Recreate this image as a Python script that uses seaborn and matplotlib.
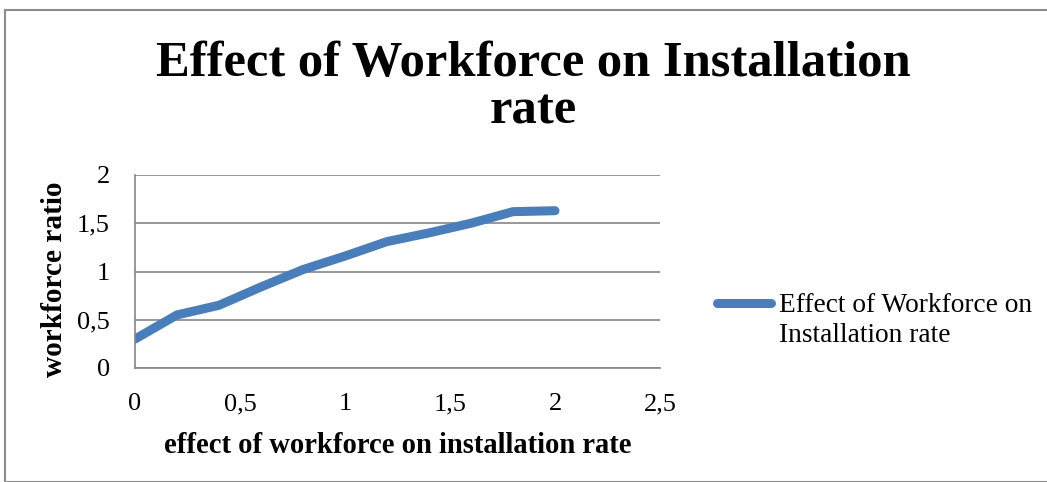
import matplotlib
matplotlib.use("Agg")
import matplotlib.pyplot as plt
import matplotlib.patches as mpatches
import seaborn as sns
import pandas as pd
from matplotlib.ticker import FuncFormatter

# Data
x_values = [0.0, 0.2, 0.4, 0.6, 0.8, 1.0, 1.2, 1.4, 1.6, 1.8, 2.0]
y_values = [0.30, 0.55, 0.65, 0.84, 1.02, 1.16, 1.31, 1.40, 1.50, 1.62, 1.63]
series_name = "Effect of Workforce on\nInstallation rate"
title_lines = ["Effect of Workforce on Installation", "rate"]
x_label = "effect of workforce on installation rate"
y_label = "workforce ratio"
x_ticks = [0, 0.5, 1, 1.5, 2, 2.5]
y_ticks = [0, 0.5, 1, 1.5, 2]

df = pd.DataFrame({"x": x_values, "y": y_values, "series": series_name})

sns.set_theme(style="white")
plt.rcParams["font.family"] = ["Liberation Serif", "DejaVu Serif"]
plt.rcParams["text.color"] = "black"

W, H = 1047, 482
fig = plt.figure(figsize=(W / 100, H / 100), dpi=100)
renderer = fig.canvas.get_renderer()


def fy(py):
    return 1 - py / H


def fit_size(text, target_px, weight="normal", base=20):
    t = fig.text(0, 0, text, fontsize=base, fontweight=weight)
    w = t.get_window_extent(renderer).width
    t.remove()
    return base * target_px / w


ax_left, ax_right, ax_top, ax_bottom = 135, 660, 175, 368
ax = fig.add_axes([ax_left / W, fy(ax_bottom), (ax_right - ax_left) / W, (ax_bottom - ax_top) / H])

sns.lineplot(data=df, x="x", y="y", hue="series", palette=["#4A7EBB"],
             linewidth=6.5, ax=ax, legend=True, sort=False)
for ln in ax.lines:
    ln.set_solid_capstyle("round")
    ln.set_solid_joinstyle("round")

ax.set_xlim(0, 2.5)
ax.set_ylim(0, 2)
ax.set_xticks(x_ticks)
ax.set_yticks(y_ticks)
fmt = FuncFormatter(lambda v, p: ("%g" % v).replace(".", ","))
ax.xaxis.set_major_formatter(fmt)
ax.yaxis.set_major_formatter(fmt)
tick_fs = fit_size("1,5", 33)
ax.tick_params(axis="both", labelsize=tick_fs, colors="black", length=0, pad=18)
ax.grid(axis="y", color="#868686", linewidth=1.2)
ax.grid(axis="x", visible=False)
for side in ["top", "right"]:
    ax.spines[side].set_visible(False)
for side in ["left", "bottom"]:
    ax.spines[side].set_color("#868686")
    ax.spines[side].set_linewidth(1.2)

# axis labels
xl_fs = fit_size(x_label, 467, "bold")
ax.set_xlabel(x_label, fontsize=xl_fs, fontweight="bold", color="black")
ax.xaxis.label.set_va("baseline")
ax.xaxis.set_label_coords(397.5 / W, fy(453), transform=fig.transFigure)

yl_fs = fit_size(y_label, 195, "bold")
ax.set_ylabel(y_label, fontsize=yl_fs, fontweight="bold", color="black")
ax.yaxis.label.set_va("baseline")
ax.yaxis.label.set_rotation_mode("anchor")
ax.yaxis.set_label_coords(62 / W, fy(279.5), transform=fig.transFigure)

# title
title_fs = fit_size(title_lines[0], 753, "bold")
fig.text(533.5 / W, fy(76), title_lines[0], ha="center", va="baseline",
         fontsize=title_fs, fontweight="bold", color="black")
fig.text(533.5 / W, fy(124), title_lines[1], ha="center", va="baseline",
         fontsize=title_fs, fontweight="bold", color="black")

# legend
leg_fs = fit_size("Effect of Workforce on", 252)
fs_px = leg_fs * 100 / 72
handles, labels = ax.get_legend_handles_labels()
ax.get_legend().remove()
leg = fig.legend(handles, labels, loc="upper left",
                 bbox_to_anchor=(717 / W, fy(303 - 0.6 * fs_px + 6)),
                 frameon=False, fontsize=leg_fs, borderpad=0, borderaxespad=0,
                 handlelength=54 / fs_px, handletextpad=8 / fs_px)
for t in leg.get_texts():
    t.set_linespacing(1.3)
for h in leg.legend_handles:
    h.set_linewidth(6.5)
    h.set_solid_capstyle("round")
    y = h.get_ydata()
    h.set_ydata([v + 0.65 * leg_fs for v in y])

fig.patches.append(mpatches.Rectangle((5 / W, 0), 1.1, 1 - 9.5 / H,
                                      transform=fig.transFigure, fill=False,
                                      edgecolor="#8c8c8c", linewidth=1.5))

fig.savefig("out.png", dpi=100)
